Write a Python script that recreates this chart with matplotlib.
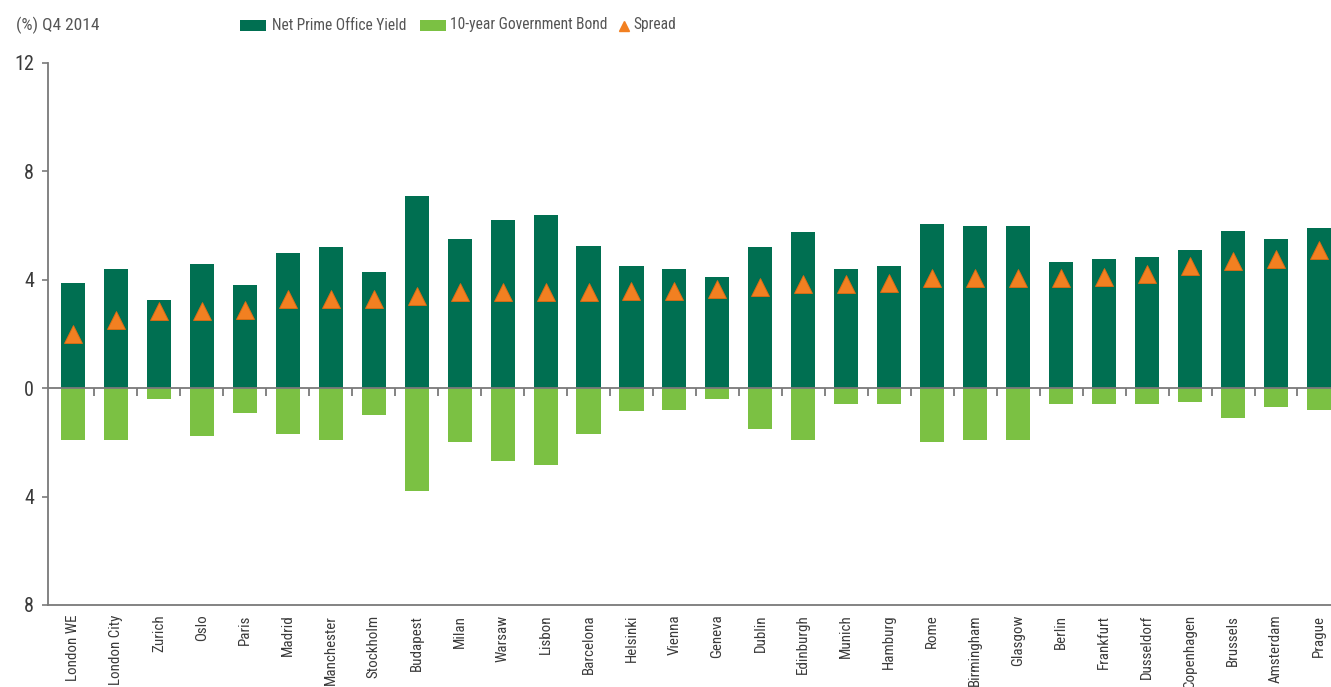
import matplotlib
matplotlib.use("Agg")
import matplotlib.pyplot as plt
from matplotlib import font_manager as fm
import numpy as np
from matplotlib.patches import Rectangle
from matplotlib.lines import Line2D

cities = ["London WE", "London City", "Zurich", "Oslo", "Paris", "Madrid", "Manchester",
          "Stockholm", "Budapest", "Milan", "Warsaw", "Lisbon", "Barcelona", "Helsinki",
          "Vienna", "Geneva", "Dublin", "Edinburgh", "Munich", "Hamburg", "Rome",
          "Birmingham", "Glasgow", "Berlin", "Frankfurt", "Dusseldorf", "Copenhagen",
          "Brussels", "Amsterdam", "Prague"]
office_yield = [3.9, 4.4, 3.25, 4.6, 3.8, 5.0, 5.2, 4.3, 7.1, 5.5, 6.2, 6.4, 5.25, 4.5,
                4.4, 4.1, 5.2, 5.75, 4.4, 4.5, 6.05, 6.0, 6.0, 4.65, 4.75, 4.85, 5.1,
                5.8, 5.5, 5.9]
gov_bond = [1.9, 1.9, 0.4, 1.75, 0.9, 1.7, 1.9, 1.0, 3.8, 2.0, 2.7, 2.85, 1.7, 0.85,
            0.8, 0.4, 1.5, 1.9, 0.6, 0.6, 2.0, 1.9, 1.9, 0.6, 0.6, 0.6, 0.5, 1.1,
            0.7, 0.8]
spread = [2.0, 2.5, 2.85, 2.85, 2.9, 3.3, 3.3, 3.3, 3.4, 3.55, 3.55, 3.55, 3.55, 3.6,
          3.6, 3.65, 3.73, 3.85, 3.85, 3.9, 4.05, 4.05, 4.05, 4.05, 4.12, 4.23, 4.5,
          4.7, 4.75, 5.1]
yticks = [12, 8, 4, 0, -4, -8]
ytick_labels = ["12", "8", "4", "0", "4", "8"]
legend_labels = ["Net Prime Office Yield", "10-year Government Bond", "Spread"]

DARK = "#006F51"
LIGHT = "#7BC143"
ORANGE = "#F28021"
AXIS = "#7a7a7a"
TEXT = "#3a3a3a"

# pick a condensed face if one is installed
names = {(f.name, str(f.stretch)) for f in fm.fontManager.ttflist}
fam_names = {n for n, _ in names}
condensed = None
for cand in ["Roboto Condensed", "Liberation Sans Narrow", "Open Sans Condensed",
             "Noto Sans Condensed", "DejaVu Sans Condensed"]:
    if cand in fam_names:
        condensed = (cand, 'normal')
        break
if condensed is None:
    for n, st in names:
        if n in ("DejaVu Sans", "Noto Sans", "Roboto", "Open Sans") and st in ("condensed", "semi-condensed", "75", "87"):
            condensed = (n, 'condensed')
            break
if condensed is None:
    condensed = ("DejaVu Sans", 'normal')
    scale = 0.8
else:
    scale = 1.0

plt.rcParams['font.family'] = [condensed[0], 'DejaVu Sans']
plt.rcParams['font.stretch'] = condensed[1]

W, H = 1331, 687
fig = plt.figure(figsize=(W / 100, H / 100), dpi=100)
ax = fig.add_axes([48 / W, 1 - 605 / H, (W - 48) / W, (605 - 63) / H])

x = np.arange(len(cities))
bw = 0.56
ax.bar(x, office_yield, width=bw, color=DARK, zorder=2)
ax.bar(x, -np.array(gov_bond), width=bw, color=LIGHT, zorder=2)
ax.plot(x, spread, linestyle='none', marker='^', markersize=12.5,
        markerfacecolor=ORANGE, markeredgecolor="#E06A10", markeredgewidth=0.6, zorder=3)

ax.set_xlim(-0.58, 29.28)
ax.set_ylim(-8, 12)

ax.axhline(0, color=AXIS, lw=1.3, zorder=3)
bounds = x[:-1] + 0.5
ax.vlines(bounds, -0.3, 0, color=AXIS, lw=1.3, zorder=3)

for s in ['top', 'right']:
    ax.spines[s].set_visible(False)
for s in ['left', 'bottom']:
    ax.spines[s].set_color(AXIS)
    ax.spines[s].set_linewidth(1.3)

ax.set_yticks(yticks)
ax.set_yticklabels(ytick_labels, fontsize=14.5 * scale, color=TEXT)
ax.tick_params(axis='y', length=4, width=1.2, color=AXIS, pad=6)
ax.set_xticks(x)
ax.set_xticklabels(cities, rotation=90, fontsize=10.8 * scale, color=TEXT, va='top', ha='center')
ax.tick_params(axis='x', length=0, pad=7)

fig.text(16 / W, 1 - 25 / H, "(%) Q4 2014", fontsize=12.5 * scale, color="#555555",
         ha='left', va='center')

# legend, drawn in figure pixel positions
def fx(px):
    return px / W

def fy(py):
    return 1 - py / H

leg_fs = 11.2 * scale
fig.add_artist(Rectangle((fx(240), fy(31)), 26 / W, 11 / H, transform=fig.transFigure,
                         facecolor=DARK, edgecolor='none'))
fig.text(fx(272), fy(25), legend_labels[0], fontsize=leg_fs, color="#555555",
         ha='left', va='center')
fig.add_artist(Rectangle((fx(420), fy(31)), 26 / W, 11 / H, transform=fig.transFigure,
                         facecolor=LIGHT, edgecolor='none'))
fig.text(fx(450), fy(25), legend_labels[1], fontsize=leg_fs, color="#555555",
         ha='left', va='center')
fig.add_artist(Line2D([fx(624)], [fy(26)], transform=fig.transFigure, linestyle='none',
                      marker='^', markersize=7, markerfacecolor=ORANGE,
                      markeredgecolor=ORANGE))
fig.text(fx(633), fy(25), legend_labels[2], fontsize=leg_fs, color="#555555",
         ha='left', va='center')

fig.savefig("out.png", dpi=100)
